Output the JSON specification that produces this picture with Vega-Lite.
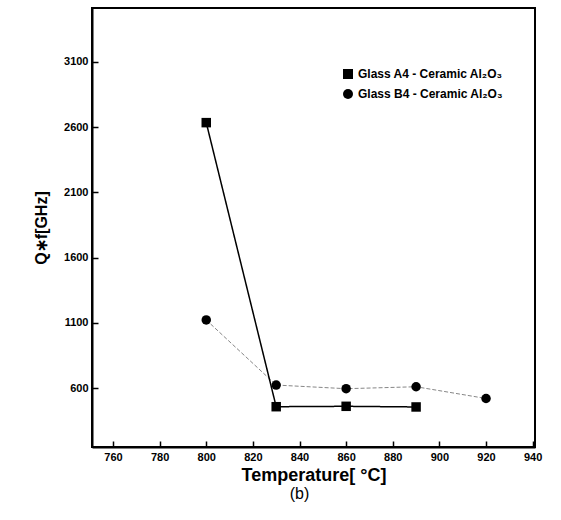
{
  "$schema": "https://vega.github.io/schema/vega-lite/v6.json",
  "autosize": "none",
  "width": 443,
  "height": 439,
  "padding": {"left": 92, "top": 8, "right": 26, "bottom": 73},
  "background": "white",
  "data": {
    "values": [
      {"T": 800, "Qf": 2635, "series": "Glass A4 - Ceramic Al₂O₃"},
      {"T": 830, "Qf": 457, "series": "Glass A4 - Ceramic Al₂O₃"},
      {"T": 860, "Qf": 460, "series": "Glass A4 - Ceramic Al₂O₃"},
      {"T": 890, "Qf": 455, "series": "Glass A4 - Ceramic Al₂O₃"},
      {"T": 800, "Qf": 1122, "series": "Glass B4 - Ceramic Al₂O₃"},
      {"T": 830, "Qf": 623, "series": "Glass B4 - Ceramic Al₂O₃"},
      {"T": 860, "Qf": 595, "series": "Glass B4 - Ceramic Al₂O₃"},
      {"T": 890, "Qf": 610, "series": "Glass B4 - Ceramic Al₂O₃"},
      {"T": 920, "Qf": 520, "series": "Glass B4 - Ceramic Al₂O₃"}
    ]
  },
  "title": {"text": "(b)", "orient": "bottom", "font": "Liberation Sans", "fontSize": 16, "fontWeight": "normal", "offset": 2, "dx": -14},
  "encoding": {
    "x": {
      "field": "T", "type": "quantitative",
      "scale": {"domain": [751, 941], "nice": false, "zero": false},
      "axis": {"title": "Temperature[ °C]", "format": "d", "values": [760, 780, 800, 820, 840, 860, 880, 900, 920, 940], "tickSize": -6, "grid": false, "labelFontSize": 11, "labelFontWeight": "bold", "titleFontSize": 18, "titlePadding": 4, "labelPadding": 10}
    },
    "y": {
      "field": "Qf", "type": "quantitative",
      "scale": {"domain": [148, 3514], "nice": false, "zero": false},
      "axis": {"title": "Q∗f[GHz]", "format": "d", "values": [600, 1100, 1600, 2100, 2600, 3100], "tickSize": -6, "grid": false, "labelFontSize": 11, "labelFontWeight": "bold", "titleFontSize": 16, "titlePadding": 14, "labelPadding": 10}
    }
  },
  "layer": [
    {
      "mark": {"type": "line", "color": "black"},
      "encoding": {
        "detail": {"field": "series"},
        "strokeWidth": {"field": "series", "type": "nominal", "scale": {"range": [1.5, 0.8]}, "legend": null},
        "strokeDash": {"field": "series", "type": "nominal", "scale": {"range": [[1, 0], [4, 2]]}, "legend": null},
        "opacity": {"field": "series", "type": "nominal", "scale": {"range": [1, 0.6]}, "legend": null}
      }
    },
    {
      "mark": {"type": "point", "filled": true, "color": "black", "size": 90, "opacity": 1},
      "encoding": {
        "shape": {"field": "series", "type": "nominal", "scale": {"range": ["square", "circle"]},
          "legend": {"title": null, "orient": "none", "legendX": 250, "legendY": 60, "labelFontSize": 12, "labelFontWeight": "bold", "symbolFillColor": "black", "symbolStrokeColor": "black", "rowPadding": 4}}
      }
    }
  ],
  "config": {
    "font": "Liberation Sans",
    "view": {"stroke": "black", "strokeWidth": 2},
    "axis": {"domainColor": "black", "domainWidth": 2, "tickColor": "black", "tickWidth": 1.5, "labelColor": "black", "titleColor": "black", "titleFontWeight": "bold"}
  }
}
